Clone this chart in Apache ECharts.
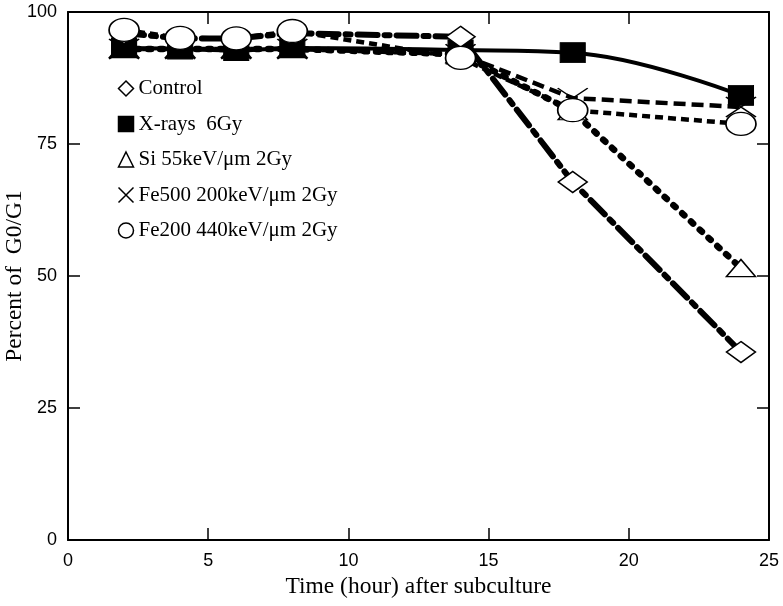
<!DOCTYPE html>
<html><head><meta charset="utf-8">
<script src="https://cdn.jsdelivr.net/npm/echarts@6/dist/echarts.min.js"></script>
<style>html,body{margin:0;padding:0;background:#fff}#c{width:783px;height:606px}</style>
</head><body><div id="c"></div>
<script>
var hours = [2, 4, 6, 8, 14, 18, 24];
var control = [96, 95, 95, 96, 95.3, 67.8, 35.6];
var xrays = [93.2, 93.0, 92.7, 93.2, 92.8, 92.3, 84.2];
var si = [93, 93, 93, 93, 92, 81.2, 51.5];
var fe500 = [93, 93, 93, 93, 92, 83.7, 82.0];
var fe200 = [96.6, 95.1, 95.0, 96.4, 91.3, 81.4, 78.8];
var xTicks = [0, 5, 10, 15, 20, 25];
var yTicks = [0, 25, 50, 75, 100];
var names = ['Control', 'X-rays  6Gy', 'Si 55keV/\u03bcm 2Gy', 'Fe500 200keV/\u03bcm 2Gy', 'Fe200 440keV/\u03bcm 2Gy'];

function pts(v){ return hours.map(function(h,i){ return [h, v[i]]; }); }
var crossPath = 'path://M0,0L10,10M10,0L0,10';
var serif = 'Liberation Serif';
var chart = echarts.init(document.getElementById('c'));
var axisBase = {
  min: 0, splitLine: {show:false},
  axisLine: {show:true, onZero:false, lineStyle:{color:'#000', width:2}},
  axisTick: {show:true, inside:true, length:12, lineStyle:{color:'#000', width:1.5}}
};
chart.setOption({
  animation: false,
  grid: {left: 68, right: 14, top: 12, bottom: 66, containLabel: false, outerBoundsMode: 'none'},
  legend: {
    orient: 'vertical', left: 111, top: 73, itemGap: 14.5,
    itemWidth: 15, itemHeight: 15, itemStyle: {borderWidth: 1.5},
    textStyle: {fontFamily: serif, fontSize: 21, color: '#000', lineHeight: 21},
    data: [
      {name: names[0], icon: 'diamond'},
      {name: names[1], icon: 'rect'},
      {name: names[2], icon: 'triangle'},
      {name: names[3], icon: crossPath},
      {name: names[4], icon: 'circle'}
    ]
  },
  xAxis: [
    Object.assign({}, axisBase, {type:'value', max:25, interval:5, position:'bottom',
      name: 'Time (hour) after subculture', nameLocation:'middle', nameGap: 35, nameMoveOverlap: false,
      nameTextStyle:{fontFamily: serif, fontSize: 23.5, color:'#000'},
      axisLabel:{color:'#000', fontFamily:'Liberation Sans', fontSize:18, margin:12,
        formatter: function(v){ return xTicks.indexOf(v) >= 0 ? String(v) : ''; }}}),
    Object.assign({}, axisBase, {type:'value', max:25, interval:5, position:'top', axisLabel:{show:false}})
  ],
  yAxis: [
    Object.assign({}, axisBase, {type:'value', max:100, interval:25, position:'left',
      name: 'Percent of  G0/G1', nameLocation:'middle', nameGap: 41, nameRotate: 90, nameMoveOverlap: false,
      nameTextStyle:{fontFamily: serif, fontSize: 23.5, color:'#000'},
      axisLabel:{color:'#000', fontFamily:'Liberation Sans', fontSize:18, margin:11,
        formatter: function(v){ return yTicks.indexOf(v) >= 0 ? String(v) : ''; }}}),
    Object.assign({}, axisBase, {type:'value', max:100, interval:25, position:'right', axisLabel:{show:false}})
  ],
  series: [
    {name: names[0], type:'line', data: pts(control), z: 5,
      symbol:'diamond', symbolSize:[29,21],
      itemStyle:{color:'#fff', borderColor:'#000', borderWidth:1.5},
      lineStyle:{color:'#000', width:6, type:[20,7,5,7], cap:'round'}},
    {name: names[2], type:'line', data: pts(si), z: 3,
      symbol:'triangle', symbolSize:[29,17],
      itemStyle:{color:'#fff', borderColor:'#000', borderWidth:1.5},
      lineStyle:{color:'#000', width:6.5, type:[3,9], cap:'round'}},
    {name: names[3], type:'line', data: pts(fe500), z: 3,
      symbol: crossPath, symbolSize:[30,20],
      itemStyle:{color:'none', borderColor:'#000', borderWidth:1.5},
      lineStyle:{color:'#000', width:4.5, type:[12,6]}},
    {name: names[1], type:'line', data: pts(xrays), z: 4, smooth: 0.4,
      symbol:'rect', symbolSize:[25,20],
      itemStyle:{color:'#000', borderColor:'#000', borderWidth:1},
      lineStyle:{color:'#000', width:4, type:'solid'}},
    {name: names[4], type:'line', data: pts(fe200), z: 6,
      symbol:'circle', symbolSize:[30,23],
      itemStyle:{color:'#fff', borderColor:'#000', borderWidth:1.5},
      lineStyle:{color:'#000', width:4.5, type:[8,5]}}
  ]
});
</script></body></html>
